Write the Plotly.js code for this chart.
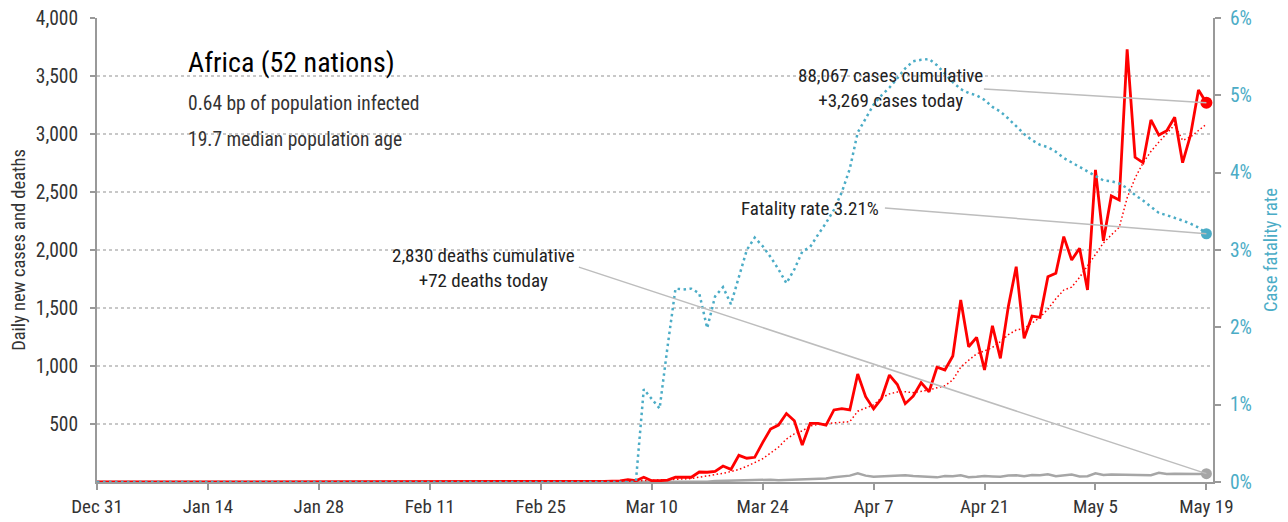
<!DOCTYPE html>
<html>
<head>
<meta charset="utf-8">
<script src="https://cdn.plot.ly/plotly-3.0.1.min.js"></script>
<style>
html,body{margin:0;padding:0;background:#fff;}
#chart{width:1288px;height:522px;}
</style>
</head>
<body>
<div id="chart"></div>
<script>
// ---- Data ----
var startDate = '2019-12-31';
var numDays = 141; // Dec 31 .. May 19

// Daily new cases (Dec 31 .. May 19)
var cases = [
  0,0,0,0,0,0,0,0,0,0, 0,0,0,0,0,0,0,0,0,0,
  0,0,0,0,0,0,0,0,0,0, 0,0,0,0,0,0,0,0,0,0,
  0,0,0,0,0,1,0,0,0,0, 0,0,0,0,0,0,0,1,0,1,
  1,2,3,5,6,8,10,20,11,41, 11,11,17,41,41,41,86,84,92,138,
  109,230,205,213,340,457,491,590,528,319, 506,506,491,621,632,621,931,735,630,720,
  922,840,675,740,856,778,989,966,1086,1569, 1166,1247,966,1347,1066,1511,1856,1239,1431,1420,
  1770,1799,2115,1914,2015,1655,2690,2080,2466,2431, 3730,2799,2753,3121,2991,3028,3144,2753,2991,3379,
  3269
];

// 7-day average of daily new cases (dotted red line)
var casesAvg = [
  0,0,0,0,0,0,0,0,0,0, 0,0,0,0,0,0,0,0,0,0,
  0,0,0,0,0,0,0,0,0,0, 0,0,0,0,0,0,0,0,0,0,
  0,0,0,0,0,0,0,0,0,0, 0,0,0,0,0,0,0,0,0,0,
  1,1,1,2,3,4,5,7,9,12, 14,15,17,21,26,30,40,50,60,75,
  90,108,135,165,200,250,300,370,415,440, 483,495,505,510,515,520,610,640,665,725,
  760,775,778,770,780,793,812,830,880,990, 1050,1105,1130,1160,1210,1270,1310,1325,1370,1420,
  1490,1580,1655,1680,1765,1860,1960,2060,2130,2195, 2450,2620,2750,2850,2930,3010,3080,2945,2975,3030,
  3085
];

// Daily new deaths (grey line)
var deaths = [
  0,0,0,0,0,0,0,0,0,0, 0,0,0,0,0,0,0,0,0,0,
  0,0,0,0,0,0,0,0,0,0, 0,0,0,0,0,0,0,0,0,0,
  0,0,0,0,0,0,0,0,0,0, 0,0,0,0,0,0,0,0,0,0,
  0,0,0,0,0,0,0,0,1,0, 1,1,2,3,3,4,5,3,8,10,
  8,12,15,18,14,20,16,18,22,25, 30,32,30,40,45,55,75,55,45,48,
  52,55,58,52,50,48,40,52,50,58, 42,45,52,48,45,55,58,50,60,58,
  66,50,56,65,48,50,75,60,64,62, 60,58,62,58,80,70,72,70,68,70,
  72
];

// Case fatality rate, percent (dotted teal line, right axis)
var cfr = [
  0,0,0,0,0,0,0,0,0,0, 0,0,0,0,0,0,0,0,0,0,
  0,0,0,0,0,0,0,0,0,0, 0,0,0,0,0,0,0,0,0,0,
  0,0,0,0,0,0,0,0,0,0, 0,0,0,0,0,0,0,0,0,0,
  0,0,0,0,0,0,0,0,0,1.20, 1.08,0.95,1.75,2.50,2.49,2.50,2.44,1.99,2.40,2.52,
  2.30,2.65,3.00,3.16,3.05,2.91,2.75,2.57,2.75,2.98, 3.04,3.20,3.35,3.52,3.75,4.05,4.52,4.70,4.88,5.00,
  5.10,5.22,5.35,5.44,5.46,5.47,5.39,5.28,5.17,5.08, 5.03,5.00,4.94,4.85,4.79,4.70,4.60,4.50,4.42,4.36,
  4.33,4.27,4.19,4.13,4.07,4.01,3.95,3.90,3.89,3.86, 3.80,3.71,3.64,3.56,3.48,3.45,3.42,3.38,3.34,3.29,
  3.21
];

var leftTicks = [500,1000,1500,2000,2500,3000,3500,4000];
var leftTickText = ['500','1,000','1,500','2,000','2,500','3,000','3,500','4,000'];
var rightTicks = [0,1,2,3,4,5,6];
var rightTickText = ['0%','1%','2%','3%','4%','5%','6%'];

var titleText = 'Africa (52 nations)';
var subLine1 = '0.64 bp of population infected';
var subLine2 = '19.7 median population age';
var casesNote = '88,067 cases cumulative<br>+3,269 cases today';
var deathsNote = '2,830 deaths cumulative<br>+72 deaths today';
var cfrNote = 'Fatality rate 3.21%';

// ---- Build dates ----
var dates = [];
(function(){
  var p = startDate.split('-');
  for (var i = 0; i < numDays; i++) {
    var d = new Date(Date.UTC(+p[0], +p[1]-1, +p[2] + i));
    dates.push(d.toISOString().slice(0,10));
  }
})();
var last = numDays - 1;

var FONT = '"Roboto Condensed", "Liberation Sans Narrow", "DejaVu Sans Condensed", Roboto, sans-serif';
var RED = '#ff0000', TEAL = '#4bacc6', GREY = '#a6a6a6', LEAD = '#bdbdbd';

var traces = [
  {x: dates, y: deaths, type: 'scatter', mode: 'lines', line: {color: GREY, width: 2.5}, hoverinfo: 'skip'},
  {x: dates, y: cfr, yaxis: 'y2', type: 'scatter', mode: 'lines', line: {color: TEAL, width: 2.5, dash: '2.5px,3.5px'}, hoverinfo: 'skip'},
  {x: dates, y: casesAvg, type: 'scatter', mode: 'lines', line: {color: RED, width: 1.5, dash: '1.5px,2.5px'}, hoverinfo: 'skip'},
  {x: dates, y: cases, type: 'scatter', mode: 'lines', line: {color: RED, width: 2.8}, hoverinfo: 'skip'},
  {x: [dates[last]], y: [deaths[last]], type: 'scatter', mode: 'markers', marker: {color: GREY, size: 11}, hoverinfo: 'skip'},
  {x: [dates[last]], y: [cfr[last]], yaxis: 'y2', type: 'scatter', mode: 'markers', marker: {color: TEAL, size: 11}, hoverinfo: 'skip'},
  {x: [dates[last]], y: [cases[last]], type: 'scatter', mode: 'markers', marker: {color: RED, size: 12}, hoverinfo: 'skip'}
];

function leader(yref, yval, ax, ay) {
  return {xref: 'x', yref: yref, x: dates[last], y: yval, text: '', showarrow: true,
          arrowhead: 0, arrowwidth: 1.5, arrowcolor: LEAD, ax: ax, ay: ay, standoff: 0};
}
function note(x, y, text, xanchor, size, color) {
  return {xref: 'paper', yref: 'paper', x: x, y: y, xanchor: xanchor, yanchor: 'middle',
          text: text, showarrow: false, align: 'center', font: {family: FONT, size: size, color: color}};
}

var layout = {
  width: 1288, height: 522,
  margin: {l: 97, r: 75, t: 18, b: 40},
  paper_bgcolor: '#fff', plot_bgcolor: '#fff',
  showlegend: false,
  font: {family: FONT, size: 19, color: '#333'},
  xaxis: {
    type: 'date',
    range: ['2019-12-31', '2020-05-19 20:00'],
    tick0: '2019-12-31', dtick: 14*86400000,
    tickformat: '%b %-d',
    showgrid: false, zeroline: false,
    showline: true, linecolor: '#999', linewidth: 2,
    ticks: 'outside', ticklen: 6, tickcolor: '#999', tickwidth: 2,
    tickfont: {family: FONT, size: 19, color: '#333'}
  },
  yaxis: {
    range: [0, 4000],
    tickmode: 'array', tickvals: leftTicks, ticktext: leftTickText,
    showgrid: true, gridcolor: '#c8c8c8', griddash: 'dot', gridwidth: 1.5,
    zeroline: false,
    showline: true, linecolor: '#999', linewidth: 2,
    ticks: 'outside', ticklen: 5, tickcolor: '#999', tickwidth: 2,
    ticklabelstandoff: 8,
    tickfont: {family: FONT, size: 19.5, color: '#333'},
    title: {text: 'Daily new cases and deaths', font: {family: FONT, size: 18.5, color: '#333'}, standoff: 5}
  },
  yaxis2: {
    overlaying: 'y', side: 'right',
    range: [0, 6],
    tickmode: 'array', tickvals: rightTicks, ticktext: rightTickText,
    showgrid: false, zeroline: false,
    showline: true, linecolor: '#999', linewidth: 2,
    ticks: 'outside', ticklen: 6, tickcolor: '#999', tickwidth: 2,
    ticklabelstandoff: 5,
    tickfont: {family: FONT, size: 19.5, color: TEAL},
    title: {text: 'Case fatality rate', font: {family: FONT, size: 18.5, color: TEAL}, standoff: 13}
  },
  annotations: [
    note(0.0797, 0.905, titleText, 'left', 28, '#000'),
    note(0.0797, 0.816, subLine1, 'left', 19.5, '#333'),
    note(0.0797, 0.738, subLine2, 'left', 19.5, '#333'),
    leader('y', cases[last], -224, -14),
    leader('y2', cfr[last], -323, -26),
    leader('y', deaths[last], -629, -207),
    note(0.7106, 0.849, casesNote, 'center', 19, '#222'),
    note(0.7025, 0.5905, cfrNote, 'right', 19, '#222'),
    note(0.3459, 0.461, deathsNote, 'center', 19, '#222')
  ]
};

Plotly.newPlot('chart', traces, layout, {staticPlot: true, displayModeBar: false});
</script>
</body>
</html>
